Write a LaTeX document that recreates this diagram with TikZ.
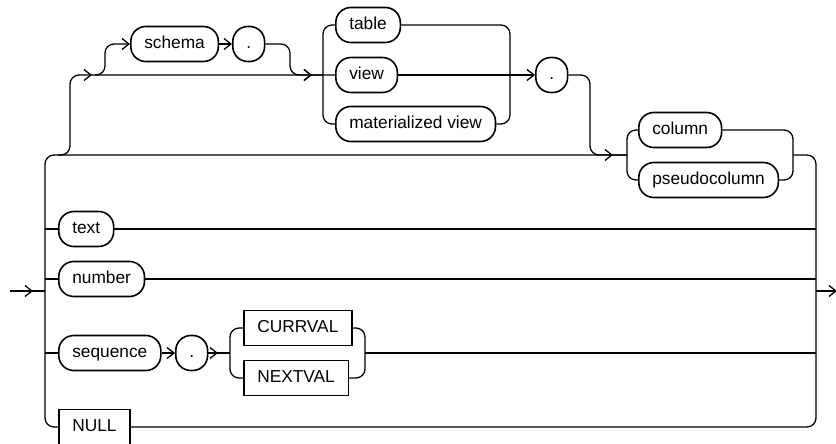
\documentclass[tikz,border=0pt]{standalone}
\usepackage{fontspec}
\setmainfont{Liberation Sans}
\usetikzlibrary{arrows.meta,decorations.markings}

\tikzset{
  >={Straight Barb[length=7pt,width=11pt]},
  term/.style={draw, line width=1.6pt, rounded corners=15pt, minimum height=35pt,
    inner xsep=13.5pt, inner ysep=0pt, text height=12.4pt, text depth=3.6pt,
    font=\fontsize{17.3}{20}\selectfont, anchor=west},
  kw/.style={term, sharp corners},
  rail/.style={line width=1.3pt, rounded corners=9pt},
  mid arrow/.style={postaction={decorate, decoration={markings,
    mark=at position #1 with {\arrow{>}}}}},
}

\begin{document}
\begin{tikzpicture}[x=1pt,y=-1pt]
  \useasboundingbox (0,0) rectangle (836,444);

  % rail points
  \coordinate (in) at (10,291);
  \coordinate (out) at (837,291);
  \coordinate (lr) at (45,155);
  \coordinate (rr) at (816,155);
  \coordinate (up) at (70,75);
  \coordinate (g1l) at (323,75);
  \coordinate (g1r) at (510,75);
  \coordinate (cl) at (627,155);
  \coordinate (cr) at (793,155);
  \coordinate (sl) at (230,353);
  \coordinate (sr) at (365,353);

  % top row
  \node[term] (schema) at (130,44) {schema};
  \node[term] (dot1) at (232,44) {.};
  \node[term] (table) at (335,25) {table};
  \node[term] (view) at (335,75) {view};
  \node[term] (matview) at (335,124) {materialized view};
  \node[term] (dot2) at (535,75) {.};
  \node[term] (column) at (638,130) {column};
  \node[term] (pseudo) at (638,180) {pseudocolumn};

  % other choices
  \node[term] (text) at (58,229) {text};
  \node[term] (number) at (58,279) {number};
  \node[term] (sequence) at (58,353) {sequence};
  \node[term] (dot3) at (175,353) {.};
  \node[kw] (currval) at (243,328) {CURRVAL};
  \node[kw] (nextval) at (243,378) {NEXTVAL};
  \node[kw] (null) at (58,427) {NULL};

  % entry, left rail and bypass to column
  \draw[rail, mid arrow=-12pt] (in) -- (in -| lr);
  \draw[rail, mid arrow=-14pt] (null.west) -| (lr) -- (cl);
  \draw[rail] (text.west -| lr) -- (text.west);
  \draw[rail] (number.west -| lr) -- (number.west);
  \draw[rail] (sequence.west -| lr) -- (sequence.west);

  % schema . (optional)
  \draw[rail, mid arrow=-23pt, mid arrow=-243pt] (lr) ++(13,0) -| (up) -- (view.west);
  \draw[rail, ->] (up) ++(25,0) -| (105,44) -- (schema.west);
  \draw[rail, ->] (schema) -- (dot1);
  \draw[rail, mid arrow=-11pt] (dot1.east) -| (290,75) -- (g1l);

  % table / view / materialized view
  \draw[rail] (table.west) -| (g1l |- matview.west) -- (matview.west);
  \draw[rail] (table.east) -| (g1r |- matview.east) -- (matview.east);
  \draw[rail, ->] (view.east) -- (dot2.west);
  \draw[rail] (dot2.east) -| (590,155) -- (cl);

  % column / pseudocolumn
  \draw[rail] (column.west) -| (cl |- pseudo.west) -- (pseudo.west);
  \draw[rail] (column.east) -| (cr |- pseudo.east) -- (pseudo.east);

  % right rail and exit
  \draw[rail] (cr) -| (rr |- null.east) -- (null.east);
  \draw[rail] (text) -- (text -| rr);
  \draw[rail] (number) -- (number -| rr);
  \draw[rail, ->] (out -| rr) -- (out);

  % sequence . CURRVAL / NEXTVAL
  \draw[rail, ->] (sequence) -- (dot3);
  \draw[rail, mid arrow=-12pt] (dot3) -- (sl);
  \draw[rail] (currval.west) -| (sl |- nextval.west) -- (nextval.west);
  \draw[rail] (currval.east) -| (sr |- nextval.east) -- (nextval.east);
  \draw[rail] (sr) -- (sr -| rr);
\end{tikzpicture}
\end{document}
